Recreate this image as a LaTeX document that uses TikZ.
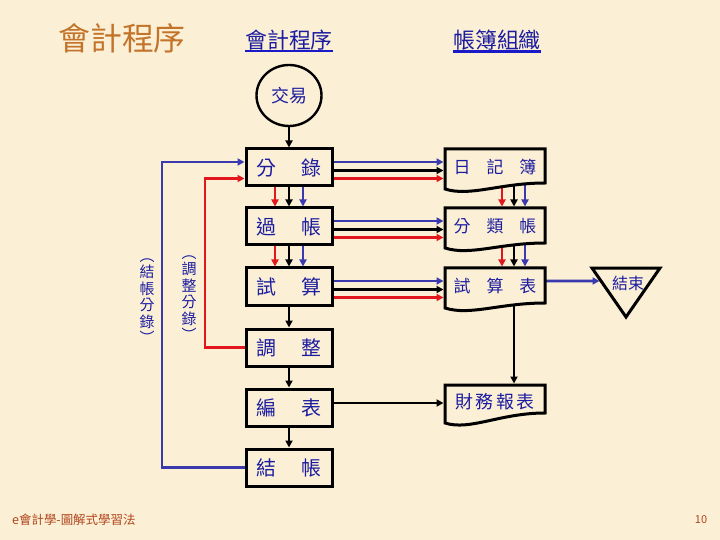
\documentclass[tikz,border=0pt]{standalone}
\usepackage{fontspec}
\newfontfamily\cjk{Noto Sans CJK TC}
\usetikzlibrary{arrows.meta,shapes.geometric}
\pgfdeclarelayer{back}\pgfdeclarelayer{conn}\pgfdeclarelayer{shp}
\pgfsetlayers{back,conn,shp,main}
\definecolor{bgc}{HTML}{FBF0D6}
\definecolor{lblue}{HTML}{3A3AAE}
\definecolor{lred}{HTML}{E3161B}
\definecolor{tblue}{HTML}{1C1CA0}
\definecolor{ulblue}{HTML}{1A1AC8}
\definecolor{ttl}{HTML}{C4742A}
\definecolor{ftr}{HTML}{B0441C}
\newcommand{\docshape}[3]{%
  \begin{pgfonlayer}{shp}
  \draw[docline] ([yshift=#3]#1.south east) -- (#1.north east) -- (#1.north west) -- ([yshift=-#2]#1.south west)
     .. controls +(25,8) and +(-45,0) .. ([yshift=#3]#1.south east) -- cycle;
  \end{pgfonlayer}}
\begin{document}
\begin{tikzpicture}[x=1bp,y=-1bp,
  box/.style={draw=black, line width=3bp, fill=bgc, minimum width=86bp, minimum height=37bp,
     inner sep=0pt, font=\cjk\fontsize{20}{20}\selectfont, text=tblue},
  doctxt/.style={minimum width=100bp, minimum height=37bp, inner sep=0pt, outer sep=0pt,
     font=\cjk\fontsize{17}{17}\selectfont, text=tblue},
  docline/.style={draw=black, line width=3bp, fill=bgc, line join=miter},
  conn/.style={line width=2.6bp, -{Triangle[length=7bp,width=7bp]}},
  todoc/.style={shorten >=1.5bp},
  link/.style={inner sep=0pt, font=\cjk\fontsize{22}{22}\selectfont, text=tblue},
  ulink/.style={draw=ulblue, line width=2.2bp},
  vlabel/.style={align=center, inner sep=0pt, text=tblue, font=\cjk\fontsize{15}{16.5}\selectfont},
  tricol/.style={draw=black, line width=3bp, fill=bgc, line join=miter}]
\useasboundingbox (0,0) rectangle (720,540);
\begin{pgfonlayer}{back}
  \fill[bgc] (0,0) rectangle (720,540);
\end{pgfonlayer}

% headers
\node[inner sep=0pt, text=ttl, font=\cjk\fontsize{32}{32}\selectfont] (title) at (122,38) {會計程序};
\node[link] (lk1) at (289,40) {會計程序};
\node[link] (lk2) at (497,40) {帳簿組織};
\draw[ulink] ([yshift=-1bp]lk1.south west) -- ([yshift=-1bp]lk1.south east);
\draw[ulink] ([yshift=-1bp]lk2.south west) -- ([yshift=-1bp]lk2.south east);

% start
\node[ellipse, draw=black, line width=2.4bp, fill=bgc, minimum width=65bp, minimum height=61bp,
      inner sep=0pt, text=tblue, font=\cjk\fontsize{18}{18}\selectfont] (e1) at (289,95.5) {交易};

% left column
\node[box] (a1) at (289,167.5) {分\hspace{26bp}錄};
\node[box] (a2) at (289,226.5) {過\hspace{26bp}帳};
\node[box] (a3) at (289,286.5) {試\hspace{26bp}算};
\node[box] (a4) at (289,347.5) {調\hspace{26bp}整};
\node[box] (a5) at (289,407.5) {編\hspace{26bp}表};
\node[box] (a6) at (289,467.5) {結\hspace{26bp}帳};

% right column
\node[doctxt] (b1) at (495,167.5) {日\hspace{16bp}記\hspace{16bp}簿};
\node[doctxt] (b2) at (495,226.5) {分\hspace{16bp}類\hspace{16bp}帳};
\node[doctxt] (b3) at (495,286.5) {試\hspace{16bp}算\hspace{16bp}表};
\node[doctxt, minimum height=33bp, font=\cjk\fontsize{18}{18}\selectfont] (b4) at (495,401.5)
   {財\hspace{2.5bp}務\hspace{2.5bp}報\hspace{2.5bp}表};
\docshape{b1}{3bp}{3bp}
\docshape{b2}{3bp}{2bp}
\docshape{b3}{3bp}{2bp}
\docshape{b4}{5bp}{5bp}

% end triangle
\begin{pgfonlayer}{shp}
  \draw[tricol] (592,268) -- (660,268) -- (626,317) -- cycle;
\end{pgfonlayer}
\node[inner sep=0pt, text=tblue, font=\cjk\fontsize{16}{16}\selectfont] (t1) at (628,283) {結束};
\coordinate (tri) at (601,281);

% vertical labels
\node[vlabel] (v1) at (147,301) {︵\\結\\帳\\分\\錄\\︶};
\node[vlabel] (v2) at (189,298) {︵\\調\\整\\分\\錄\\︶};

% footer
\node[anchor=west, inner sep=0pt, text=ftr, font=\cjk\fontsize{12.5}{12.5}\selectfont] (ft) at (12,520) {e會計學-圖解式學習法};
\node[inner sep=0pt, text=ftr, font=\cjk\fontsize{11}{11}\selectfont] (pg) at (701,520) {10};

\coordinate (fbB) at (162,0);
\coordinate (fbR) at (205,0);

\begin{pgfonlayer}{conn}
  \draw[conn] (e1.south) -- (a1.north);
  % left vertical flow
  \draw[conn, lred]   ([xshift=-14bp]a1.center) -- ([xshift=-14bp]a2.north);
  \draw[conn]         (a1.center) -- (a2.north);
  \draw[conn, lblue]  ([xshift=14bp]a1.center) -- ([xshift=14bp]a2.north);
  \draw[conn, lred]   ([xshift=-14bp]a2.center) -- ([xshift=-14bp]a3.north);
  \draw[conn]         (a2.center) -- (a3.north);
  \draw[conn, lblue]  ([xshift=14bp]a2.center) -- ([xshift=14bp]a3.north);
  \draw[conn] (a3.center) -- (a4.north);
  \draw[conn] (a4.center) -- (a5.north);
  \draw[conn] (a5.center) -- (a6.north);
  % horizontal to books
  \foreach \s/\t in {a1/b1,a2/b2,a3/b3}{
    \draw[conn, lblue, todoc] ([yshift=5.5bp]\s.center) -- ([yshift=5.5bp]\s.center -| \t.west);
    \draw[conn, todoc]        ([yshift=-3bp]\s.center) -- ([yshift=-3bp]\s.center -| \t.west);
    \draw[conn, lred, todoc]  ([yshift=-11bp]\s.center) -- ([yshift=-11bp]\s.center -| \t.west);
  }
  % right vertical flow
  \foreach \s/\t in {b1/b2,b2/b3}{
    \draw[conn, lred, todoc]  ([xshift=7bp]\s.center) -- ([xshift=7bp]\t.north);
    \draw[conn, todoc]        ([xshift=19bp]\s.center) -- ([xshift=19bp]\t.north);
    \draw[conn, lblue, todoc] ([xshift=30bp]\s.center) -- ([xshift=30bp]\t.north);
  }
  \draw[conn, lblue, todoc] ([yshift=5.5bp]b3.center) -- (tri);
  \draw[conn, todoc] ([xshift=19bp]b3.center) -- ([xshift=19bp]b4.north);
  \draw[conn, todoc] ([yshift=4.5bp]a5.center) -- ([yshift=4.5bp]a5.center -| b4.west);
  % feedback loops
  \draw[conn, lblue] (a6.center) -- (a6.center -| fbB) -- ([yshift=5.5bp]a1.center -| fbB) -- ([yshift=5.5bp]a1.west);
  \draw[conn, lred] (a4.center) -- (a4.center -| fbR) -- ([yshift=-11bp]a1.center -| fbR) -- ([yshift=-11bp]a1.west);
\end{pgfonlayer}
\end{tikzpicture}
\end{document}
